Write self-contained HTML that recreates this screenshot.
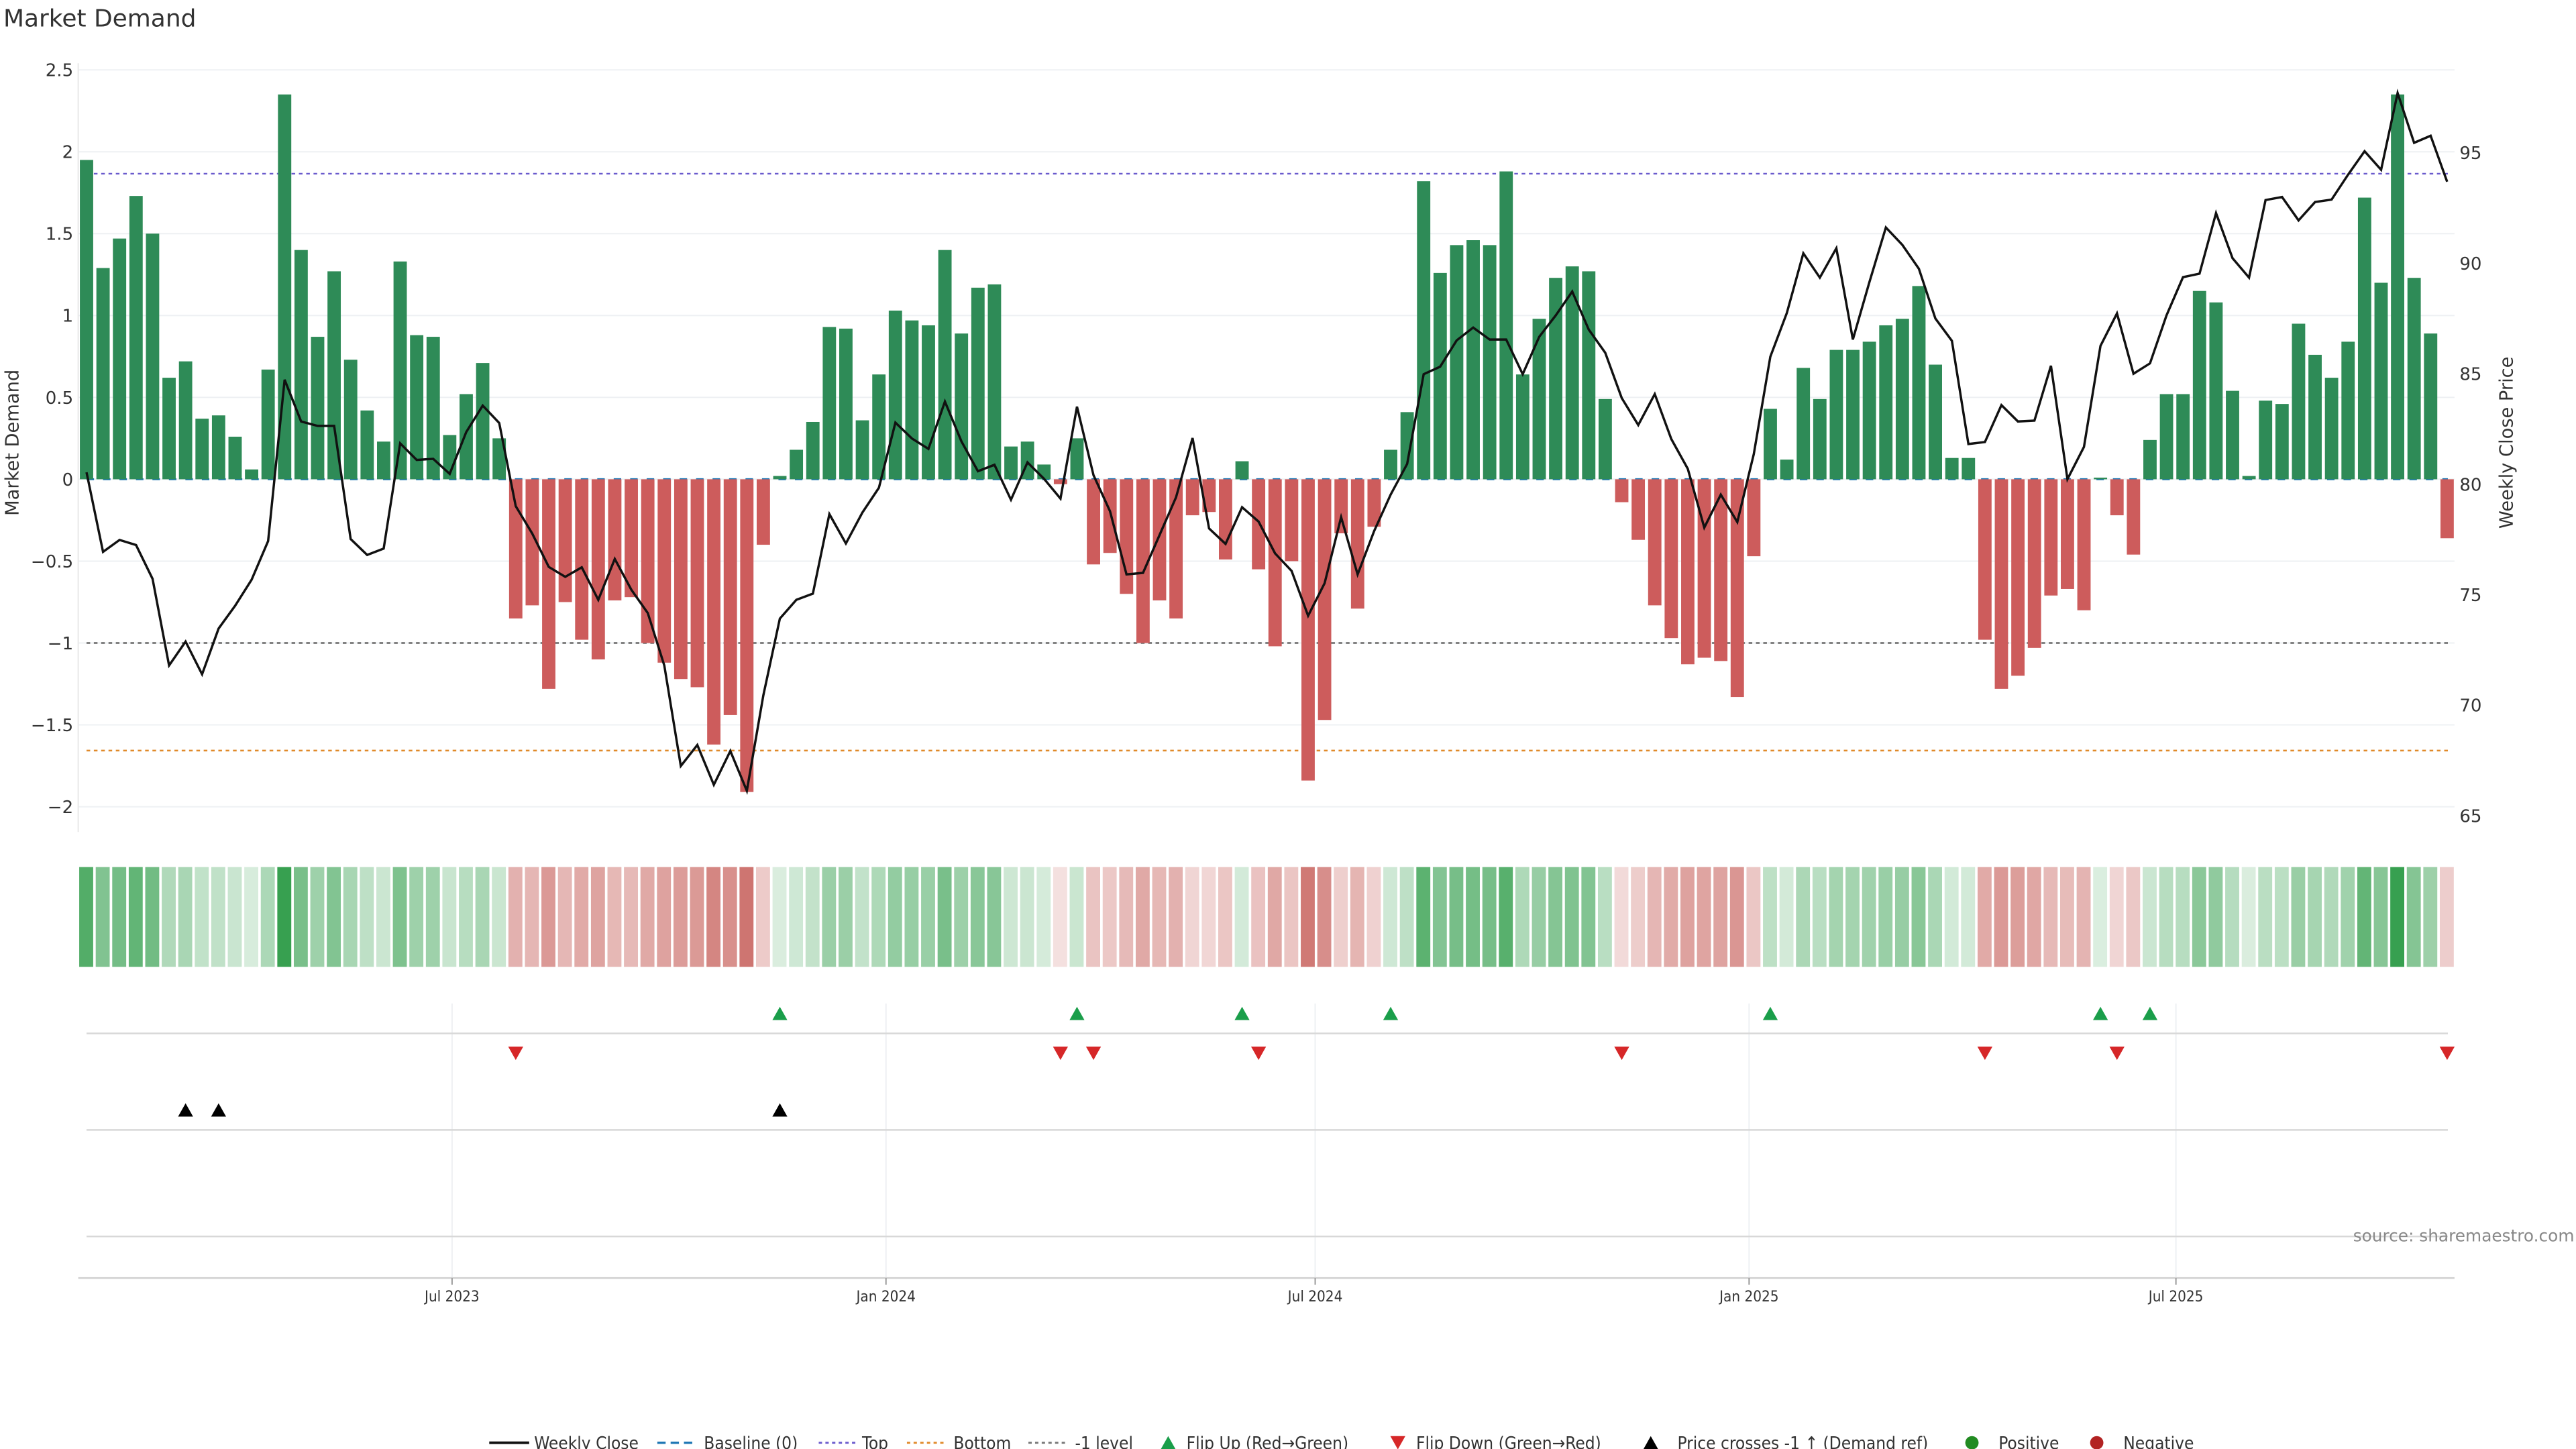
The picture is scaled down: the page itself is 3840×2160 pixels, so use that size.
<!DOCTYPE html>
<html><head><meta charset="utf-8"><title>Market Demand</title>
<style>
html,body{margin:0;padding:0;background:#fff;}
svg{display:block;}
text{font-family:"DejaVu Sans","Liberation Sans",sans-serif;}
.cond{font-family:"DejaVu Sans Condensed","DejaVu Sans","Liberation Sans",sans-serif;}
</style></head>
<body>
<svg id="chart" xmlns="http://www.w3.org/2000/svg" width="3840" height="2160" viewBox="0 0 1548 870.75">
<rect x="0" y="0" width="1548" height="870.75" fill="#fff"/>
<text x="2" y="16" font-size="14.5" fill="#333">Market Demand</text>
<g id="grid"></g>
<g id="refs"></g>
<g id="bars"></g>
<g id="line"></g>
<g id="heat"></g>
<g id="markers"></g>
<g id="axes"></g>
<g id="legend"></g>
<text x="1547" y="746" font-size="10" fill="#888" text-anchor="end">source: sharemaestro.com</text>
</svg>
<script>
const demand = [1.95,1.29,1.47,1.73,1.50,0.62,0.72,0.37,0.39,0.26,0.06,0.67,2.35,1.40,0.87,1.27,0.73,0.42,0.23,1.33,0.88,0.87,0.27,0.52,0.71,0.25,
-0.85,-0.77,-1.28,-0.75,-0.98,-1.10,-0.74,-0.72,-1.00,-1.12,-1.22,-1.27,-1.62,-1.44,-1.91,-0.40,
0.02,0.18,0.35,0.93,0.92,0.36,0.64,1.03,0.97,0.94,1.40,0.89,1.17,1.19,0.20,0.23,0.09,-0.03,0.25,
-0.52,-0.45,-0.70,-1.00,-0.74,-0.85,-0.22,-0.20,-0.49,0.11,-0.55,-1.02,-0.50,-1.84,-1.47,-0.33,-0.79,-0.29,
0.18,0.41,1.82,1.26,1.43,1.46,1.43,1.88,0.64,0.98,1.23,1.30,1.27,0.49,
-0.14,-0.37,-0.77,-0.97,-1.13,-1.09,-1.11,-1.33,-0.47,
0.43,0.12,0.68,0.49,0.79,0.79,0.84,0.94,0.98,1.18,0.70,0.13,0.13,
-0.98,-1.28,-1.20,-1.03,-0.71,-0.67,-0.80,0.01,-0.22,-0.46,
0.24,0.52,0.52,1.15,1.08,0.54,0.02,0.48,0.46,0.95,0.76,0.62,0.84,1.72,1.20,2.35,1.23,0.89,-0.36];
const closes = [80.54,76.94,77.48,77.25,75.72,71.80,72.88,71.40,73.47,74.50,75.68,77.43,84.73,82.84,82.64,82.64,77.52,76.80,77.09,81.85,81.10,81.15,80.47,82.36,83.56,82.77,
79.01,77.77,76.26,75.81,76.24,74.77,76.62,75.23,74.17,71.80,67.25,68.20,66.40,67.93,66.13,70.45,
73.92,74.77,75.05,78.65,77.32,78.72,79.84,82.79,82.07,81.60,83.74,81.94,80.59,80.88,79.30,80.99,80.25,79.35,83.51,
80.41,78.78,75.92,75.99,77.70,79.41,82.09,78.00,77.30,78.96,78.31,76.87,76.08,74.05,75.52,78.51,75.92,77.88,
79.53,80.92,84.98,85.32,86.51,87.09,86.55,86.55,84.98,86.67,87.64,88.72,87.00,85.95,
83.90,82.68,84.08,82.05,80.70,78.04,79.53,78.29,81.37,
85.77,87.75,90.45,89.35,90.68,86.55,89.14,91.62,90.83,89.75,87.50,86.49,81.82,
81.91,83.58,82.84,82.88,85.36,80.23,81.69,86.26,87.73,85.00,
85.47,87.64,89.37,89.53,92.27,90.23,89.35,92.86,93.00,91.94,92.77,92.88,94.01,95.07,94.23,97.70,95.45,95.77,93.69];
const leftTicks = [2.5,2,1.5,1,0.5,0,-0.5,-1,-1.5,-2];
const leftTickLabels = ["2.5","2","1.5","1","0.5","0","\u22120.5","\u22121","\u22121.5","\u22122"];
const rightTicks = [95,90,85,80,75,70,65];
const xTickLabels = ["Jul 2023","Jan 2024","Jul 2024","Jan 2025","Jul 2025"];
const xTickDates = ["2023-07-01","2024-01-01","2024-07-01","2025-01-01","2025-07-01"];
const flipUpIdx = [42,60,70,79,102,122,125];
const flipDownIdx = [26,59,61,71,93,115,123,143];
const crossIdx = [6,8,42];
const levelTop = 1.866, levelBottom = -1.657, levelMinus1 = -1.0;
const startDate = "2023-01-27";

const NS="http://www.w3.org/2000/svg";
function mk(tag, attrs, parent){const e=document.createElementNS(NS,tag);for(const k in attrs)e.setAttribute(k,attrs[k]);parent.appendChild(e);return e;}
const X0=52, STEP=9.92, PL=47, PR=1475;
const t0=Date.parse(startDate);
function xIdx(i){return X0+i*STEP;}
function xDate(s){return X0+(Date.parse(s)-t0)/(7*864e5)*STEP;}
function yD(v){return 288-v*98.4;}
function yP(p){return 291-(p-80)*13.28;}

const grid=document.getElementById('grid'), refs=document.getElementById('refs'), bars=document.getElementById('bars'),
 lineG=document.getElementById('line'), heat=document.getElementById('heat'), mG=document.getElementById('markers'),
 axes=document.getElementById('axes'), leg=document.getElementById('legend');

// grid + left ticks
leftTicks.forEach((v,k)=>{
 const l=mk('line',{x1:PL,x2:PR,y1:yD(v),y2:yD(v),stroke:'#eef0f3','stroke-width':0.8},grid);
 
 
 const t=mk('text',{x:44,y:yD(v)+3.8,'font-size':10.5,fill:'#333','text-anchor':'end'},axes);
 t.textContent=leftTickLabels[k];
 
 
});
rightTicks.forEach(p=>{
 const t=mk('text',{x:1478,y:yP(p)+3.8,'font-size':10.5,fill:'#333'},axes);
 t.textContent=String(p);
 
 
});
const la=mk('line',{x1:PL,x2:PL,y1:38,y2:500,stroke:'#e8e8e8','stroke-width':0.8},axes);


const yt=mk('text',{x:0,y:0,'font-size':11,fill:'#333','text-anchor':'middle',transform:'translate(11,266) rotate(-90)'},axes);
yt.textContent='Market Demand';


const yt2=mk('text',{x:0,y:0,'font-size':11,fill:'#333','text-anchor':'middle',transform:'translate(1510,266) rotate(-90)'},axes);
yt2.textContent='Weekly Close Price';



// reference lines
[[levelTop,'#6a5acd','top-line'],[levelBottom,'#e08a2a','bottom-line'],[levelMinus1,'#666','minus-one-line']].forEach(r=>{
 const l=mk('line',{x1:X0,x2:1471,y1:yD(r[0]),y2:yD(r[0]),stroke:r[1],'stroke-width':1,'stroke-dasharray':'2.2,2.2'},refs);
 
 
});

// bars
demand.forEach((v,i)=>{
 const y=Math.min(yD(v),yD(0)), h=Math.abs(yD(v)-yD(0));
 const r=mk('rect',{x:xIdx(i)-4,y:y,width:8,height:Math.max(h,0.5),fill:v>=0?'#2e8b57':'#cd5c5c'},bars);
 
 
});
const bl=mk('line',{x1:X0,x2:1471,y1:yD(0),y2:yD(0),stroke:'#1f77b4','stroke-width':1.2,'stroke-dasharray':'4.5,5.4'},refs);



// price line
const pts=closes.map((p,i)=>xIdx(i).toFixed(2)+','+yP(p).toFixed(2)).join(' ');
const pl=mk('polyline',{points:pts,fill:'none',stroke:'#111','stroke-width':1.4,'stroke-linejoin':'miter'},lineG);



// heatmap
function mix(c,t){return 'rgb('+c.map(a=>Math.round(255+(a-255)*t)).join(',')+')';}
demand.forEach((v,i)=>{
 const t=Math.min(1,0.18+0.82*Math.abs(v)/2.35);
 const c=v>=0?mix([55,160,80],t):mix([200,100,95],t*1.05);
 const r=mk('rect',{x:xIdx(i)-4.4,y:521,width:8.4,height:60,fill:c},heat);
 
 
});

// marker panels
xTickDates.forEach(d=>{
 const l=mk('line',{x1:xDate(d),x2:xDate(d),y1:603,y2:768,stroke:'#eef0f3','stroke-width':0.8},mG);
 
 
});
[621,679,743].forEach(y=>{
 const l=mk('line',{x1:52,x2:1471,y1:y,y2:y,stroke:'#d8d8d8','stroke-width':1},mG);
 
 
});
function tri(x,y,up,col){return up?`${x-4.5},${y+4} ${x+4.5},${y+4} ${x},${y-4}`:`${x-4.5},${y-4} ${x+4.5},${y-4} ${x},${y+4}`;}
flipUpIdx.forEach(i=>{
 const p=mk('polygon',{points:tri(xIdx(i),609,true),fill:'#1a9e4a'},mG);
 
 
});
flipDownIdx.forEach(i=>{
 const p=mk('polygon',{points:tri(xIdx(i),633,false),fill:'#d62728'},mG);
 
 
});
crossIdx.forEach(i=>{
 const p=mk('polygon',{points:tri(xIdx(i),667,true),fill:'#000'},mG);
 
 
});

// x axis
const xa=mk('line',{x1:PL,x2:PR,y1:768,y2:768,stroke:'#d0d0d0','stroke-width':1},axes);


xTickLabels.forEach((s,k)=>{
 const x=xDate(xTickDates[k]);
 const tk=mk('line',{x1:x,x2:x,y1:768,y2:772,stroke:'#999','stroke-width':0.8},axes);
 
 
 const t=mk('text',{x:x,y:782,'font-size':9,fill:'#333','text-anchor':'middle',class:'cond'},axes);
 t.textContent=s;
 
 
});

// legend
const LY=867;
const legendItems=[
 ['line',294,'#111','',1.6,'Weekly Close',321],
 ['line',395,'#1f77b4','5,3',1.4,'Baseline (0)',423],
 ['line',492,'#6a5acd','2,2',1.2,'Top',518],
 ['line',545,'#e08a2a','2,2',1.2,'Bottom',573],
 ['line',618,'#777','2,2',1.2,'-1 level',646],
 ['up',702,'#1a9e4a','',0,'Flip Up (Red\u2192Green)',713],
 ['down',840,'#d62728','',0,'Flip Down (Green\u2192Red)',851],
 ['up',992,'#000','',0,'Price crosses -1 \u2191 (Demand ref)',1008],
 ['dot',1185,'#228b22','',0,'Positive',1201],
 ['dot',1260,'#b22222','',0,'Negative',1276]
];
legendItems.forEach(it=>{
 let s;
 if(it[0]==='line'){s=mk('line',{x1:it[1],x2:it[1]+24,y1:LY,y2:LY,stroke:it[2],'stroke-width':it[4],'stroke-dasharray':it[3]},leg);}
 else if(it[0]==='dot'){s=mk('circle',{cx:it[1],cy:LY,r:4,fill:it[2]},leg);}
 else {s=mk('polygon',{points:tri(it[1],LY,it[0]==='up'),fill:it[2]},leg);}
 
 
 const t=mk('text',{x:it[6],y:LY+3.8,'font-size':10.5,fill:'#333',class:'cond'},leg);
 t.textContent=it[5];
 
 
});
</script>
</body></html>
